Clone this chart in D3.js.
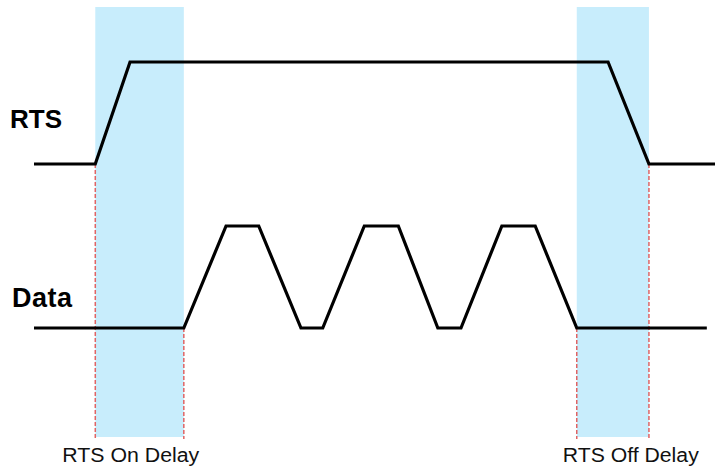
<!DOCTYPE html>
<html>
<head>
<meta charset="utf-8">
<script src="https://cdn.jsdelivr.net/npm/d3@7"></script>
<style>
  body { margin: 0; background: #fff; }
  svg { display: block; font-family: Arial, "Liberation Sans", sans-serif; }
</style>
</head>
<body>
<div id="chart"></div>
<script>
// Timing diagram: RTS on / off delay

const width = 717
const height = 467

// signal rows
const signals = ['RTS', 'Data']

// waveform corner points, [time, level]
const rtsWave = [[0, 0], [9, 0], [14.1, 1], [84.3, 1], [90.3, 0], [100, 0]]
const dataWave = [[0, 0], [22, 0], [28.2, 1], [33, 1], [39.2, 0], [42.4, 0], [48.5, 1], [53.5, 1],
  [59.3, 0], [62.7, 0], [68.7, 1], [73.6, 1], [79.7, 0], [98.8, 0]]

// shaded delay windows
const delays = [
  { label: 'RTS On Delay', start: 9, end: 22 },
  { label: 'RTS Off Delay', start: 79.7, end: 90.3 }
]

// dashed markers: time and the signal they drop from
const markers = [[9, 'RTS'], [22, 'Data'], [79.7, 'Data'], [90.3, 'RTS']]

const svg = d3.select('#chart')
  .append('svg')
  .attr('width', width)
  .attr('height', height)

// scales
const x = d3.scaleLinear().domain([0, 100]).range([34, 715])
const rowBase = d3.scalePoint().domain(signals).range([164, 328])
const amp = 102
const yOf = (sig, v) => rowBase(sig) - v * amp

const bandTop = 7
const bandBottom = 437

// delay windows
svg.append('g')
  .selectAll('rect')
  .data(delays)
  .enter()
  .append('rect')
  .attr('x', d => x(d.start))
  .attr('y', bandTop)
  .attr('width', d => x(d.end) - x(d.start))
  .attr('height', bandBottom - bandTop)
  .attr('fill', '#c8edfc')

// dashed red markers
svg.append('g')
  .selectAll('line')
  .data(markers)
  .enter()
  .append('line')
  .attr('x1', d => x(d[0]))
  .attr('x2', d => x(d[0]))
  .attr('y1', d => rowBase(d[1]))
  .attr('y2', bandBottom + 2)
  .attr('stroke', '#e06464')
  .attr('stroke-width', 1.5)
  .attr('stroke-dasharray', '4,2')

// waveforms
const waves = [['RTS', rtsWave], ['Data', dataWave]]
const line = sig => d3.line().x(d => x(d[0])).y(d => yOf(sig, d[1]))

svg.append('g')
  .selectAll('path')
  .data(waves)
  .enter()
  .append('path')
  .attr('d', d => line(d[0])(d[1]))
  .attr('fill', 'none')
  .attr('stroke', '#000')
  .attr('stroke-width', 3.2)
  .attr('stroke-linejoin', 'miter')

// signal names
svg.append('text')
  .attr('x', 10)
  .attr('y', 128)
  .attr('font-size', 26)
  .attr('font-weight', 'bold')
  .text(signals[0])

svg.append('text')
  .attr('x', 12)
  .attr('y', 307)
  .attr('font-size', 27)
  .attr('font-weight', 'bold')
  .attr('textLength', 60)
  .text(signals[1])

// delay labels
svg.append('g')
  .selectAll('text')
  .data(delays)
  .enter()
  .append('text')
  .attr('x', (d, i) => i === 0 ? x(d.start) - 33 : x(d.start) - 14)
  .attr('y', 462)
  .attr('font-size', 20)
  .attr('fill', '#111')
  .attr('textLength', (d, i) => i === 0 ? 137 : 136)
  .attr('lengthAdjust', 'spacingAndGlyphs')
  .text(d => d.label)
</script>
</body>
</html>
